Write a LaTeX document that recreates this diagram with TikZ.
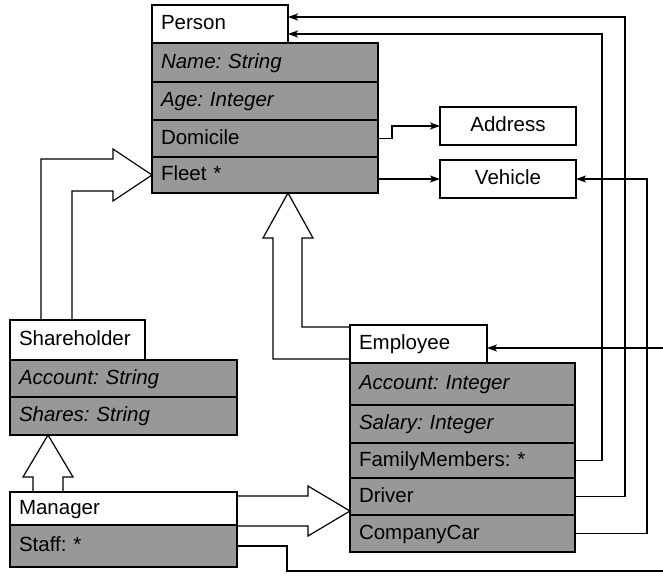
\documentclass[tikz,border=0pt]{standalone}
\usepackage{fontspec}
\setmainfont{Liberation Sans}
\usetikzlibrary{arrows.meta,calc}
\definecolor{attrgray}{RGB}{152,152,152}
\frenchspacing
\begin{document}
\begin{tikzpicture}[x=1pt,y=1pt,
  every node/.style={font=\fontsize{20.5}{24}\selectfont},
  cell/.style={anchor=north west, outer sep=0pt, inner xsep=9pt, inner ysep=0pt,
    align=left, text height=15.5pt, text depth=4pt},
  hdr/.style 2 args={cell, draw, line width=1.8pt, fill=white,
    text width=#1pt, minimum height=#2pt},
  attr/.style 2 args={cell, draw, line width=2.3pt, fill=attrgray,
    text width=#1pt, minimum height=#2pt},
  plain/.style={hdr={118}{38}, align=center},
  assoc/.style={line width=1.2pt, -{Stealth[length=10pt,width=7pt,inset=2.5pt]}},
  gen/.style={line width=1.2pt, line join=miter}]
\useasboundingbox (0,0) rectangle (663,576);

% Person
\node[attr={208}{39}] (pname)  at (152,533) {\itshape Name: String};
\node[attr={208}{38}] (page)   at (152,494) {\itshape Age: Integer};
\node[attr={208}{37}] (pdom)   at (152,456) {Domicile};
\node[attr={208}{36}] (pfleet) at (152,419) {Fleet *};
\node[hdr={118}{38}]  (phead)  at (152,571) {Person};

% Address and Vehicle
\node[plain] (addr) at (440,469) {Address};
\node[plain] (veh)  at (440,416) {Vehicle};

% Shareholder
\node[attr={209}{37}] (shacc) at (10,216) {\itshape Account: String};
\node[attr={209}{38}] (shsh)  at (10,179) {\itshape Shares: String};
\node[hdr={117}{40}]  (shhead) at (10,256) {Shareholder};

% Manager
\node[attr={209}{42}] (mstaff) at (10,51) {Staff: *};
\node[hdr={209}{33}]  (mhead)  at (10,84) {Manager};

% Employee
\node[attr={207}{42}] (eacc) at (350,213) {\itshape Account: Integer};
\node[attr={207}{38}] (esal) at (350,171) {\itshape Salary: Integer};
\node[attr={207}{35}] (efam) at (350,133) {FamilyMembers: *};
\node[attr={207}{37}] (edrv) at (350,98)  {Driver};
\node[attr={207}{37}] (ecar) at (350,61)  {CompanyCar};
\node[hdr={119}{38}]  (ehead) at (350,251) {Employee};

% bus columns on the right
\coordinate (busA) at (602,0);
\coordinate (busB) at (625,0);
\coordinate (busC) at (647,0);
\coordinate (staffdrop) at (287,5);
\coordinate (rim) at (664.5,5);

% associations
\draw[assoc] (pdom.east) -- ++(14,0) |- (addr.west);
\draw[assoc] (pfleet.east |- veh.west) -- (veh.west);
\draw[assoc] (ecar.east) -- (ecar.east -| busC) |- (veh.east);
\draw[assoc] (edrv.east) -- (edrv.east -| busB) |- ([yshift=7pt]phead.east);
\draw[assoc] (efam.east) -- (efam.east -| busA) |- ([yshift=-10pt]phead.east);
\draw[assoc] (mstaff.east) -- (mstaff.east -| staffdrop) |- (rim)
  |- ([yshift=-4pt]ehead.east);

% generalisations (wide hollow arrows)
% Shareholder -> Person
\coordinate (g1) at (pfleet.west);
\draw[gen] ([xshift=31pt]shhead.north west) |- ($(g1)+(-39,16)$)
  -- ++(0,10) -- (g1) -- ++(-39,-26) -- ++(0,10)
  -| ([xshift=62pt]shhead.north west);

% Employee -> Person
\coordinate (g2) at (phead.east |- pfleet.south);
\draw[gen] ([yshift=-2pt]ehead.north west) -| ($(g2)+(14,-45)$)
  -- ++(11,0) -- (g2) -- ++(-25,-45) -- ++(10,0)
  |- ([yshift=4pt]ehead.south west);

% Manager -> Shareholder
\coordinate (g3) at ($(shsh.south west)+(38,0)$);
\draw[gen] ([xshift=23pt]mhead.north west) |- ($(g3)+(-15,-42)$)
  -- ++(-10,0) -- (g3) -- ++(25,-42) -- ++(-10,0)
  -- ([xshift=53pt]mhead.north west);

% Manager -> Employee
\coordinate (g4) at ($(edrv.south west)+(0,4)$);
\coordinate (g4b) at ($(g4)+(-42,-15)$);
\draw[gen] ([yshift=-4pt]mhead.north east) -- ($(g4)+(-42,15)$)
  -- ++(0,10) -- (g4) -- ++(-42,-25) -- (g4b)
  -- (g4b -| mhead.east);
\end{tikzpicture}
\end{document}
